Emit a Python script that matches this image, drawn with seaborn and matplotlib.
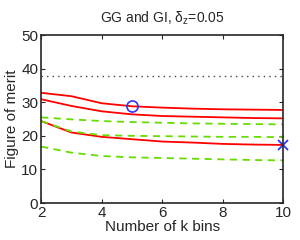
import numpy as np
import pandas as pd
import seaborn as sns
import matplotlib
matplotlib.use("Agg")
import matplotlib.pyplot as plt

bins = [2, 3, 4, 5, 6, 7, 8, 9, 10]

# red solid curves
red_top = [32.8, 31.8, 29.7, 28.8, 28.4, 28.1, 27.9, 27.8, 27.7]
red_mid = [30.9, 28.9, 27.3, 26.4, 25.9, 25.7, 25.5, 25.3, 25.2]
red_low = [24.4, 21.0, 19.7, 19.0, 18.3, 18.0, 17.6, 17.4, 17.3]

# green dashed curves
green_top = [25.5, 24.9, 24.4, 24.1, 23.9, 23.7, 23.6, 23.5, 23.4]
green_mid = [24.4, 21.3, 20.2, 20.0, 19.9, 19.8, 19.7, 19.7, 19.6]
green_low = [16.8, 15.0, 14.0, 13.6, 13.4, 13.2, 13.0, 12.8, 12.7]

ref_level = 37.7
circle_pt = (5, 28.8)
cross_pt = (10, 17.3)

sns.set_style("ticks")
plt.rcParams["font.family"] = ["Liberation Sans", "DejaVu Sans"]
plt.rcParams["mathtext.default"] = "regular"

fig, ax = plt.subplots(figsize=(3, 2.4), dpi=100)

for ys in [red_top, red_mid, red_low]:
    sns.lineplot(x=bins, y=ys, ax=ax, color="#ff0000", lw=1.3)
for ys in [green_top, green_mid, green_low]:
    sns.lineplot(x=bins, y=ys, ax=ax, color="#66dd00", lw=1.3, linestyle=(0, (4, 3)))

ax.axhline(ref_level, color="#444444", lw=1, linestyle=(0, (1, 3)))
ax.plot(*circle_pt, marker="o", ms=8, mfc="none", mec="#3333ff", mew=1.2, clip_on=False)
ax.plot(*cross_pt, marker="x", ms=7, color="#3333ff", mew=1.3, clip_on=False)

ax.set_xlim(2, 10)
ax.set_ylim(0, 50)
ax.set_xticks([2, 4, 6, 8, 10])
ax.set_yticks([0, 10, 20, 30, 40, 50])
ax.tick_params(direction="in", top=True, right=True, labelsize=11, length=3, pad=2)
for s in ax.spines.values():
    s.set_linewidth(1.2)
ax.set_xlabel("Number of k bins", fontsize=11, labelpad=0)
ax.set_ylabel("Figure of merit", fontsize=11, labelpad=2)
ax.set_title(r"GG and GI, $\delta_z$=0.05", fontsize=10, pad=9)

fig.subplots_adjust(left=0.137, right=0.944, top=0.854, bottom=0.154)
fig.savefig("out.png", dpi=100)
